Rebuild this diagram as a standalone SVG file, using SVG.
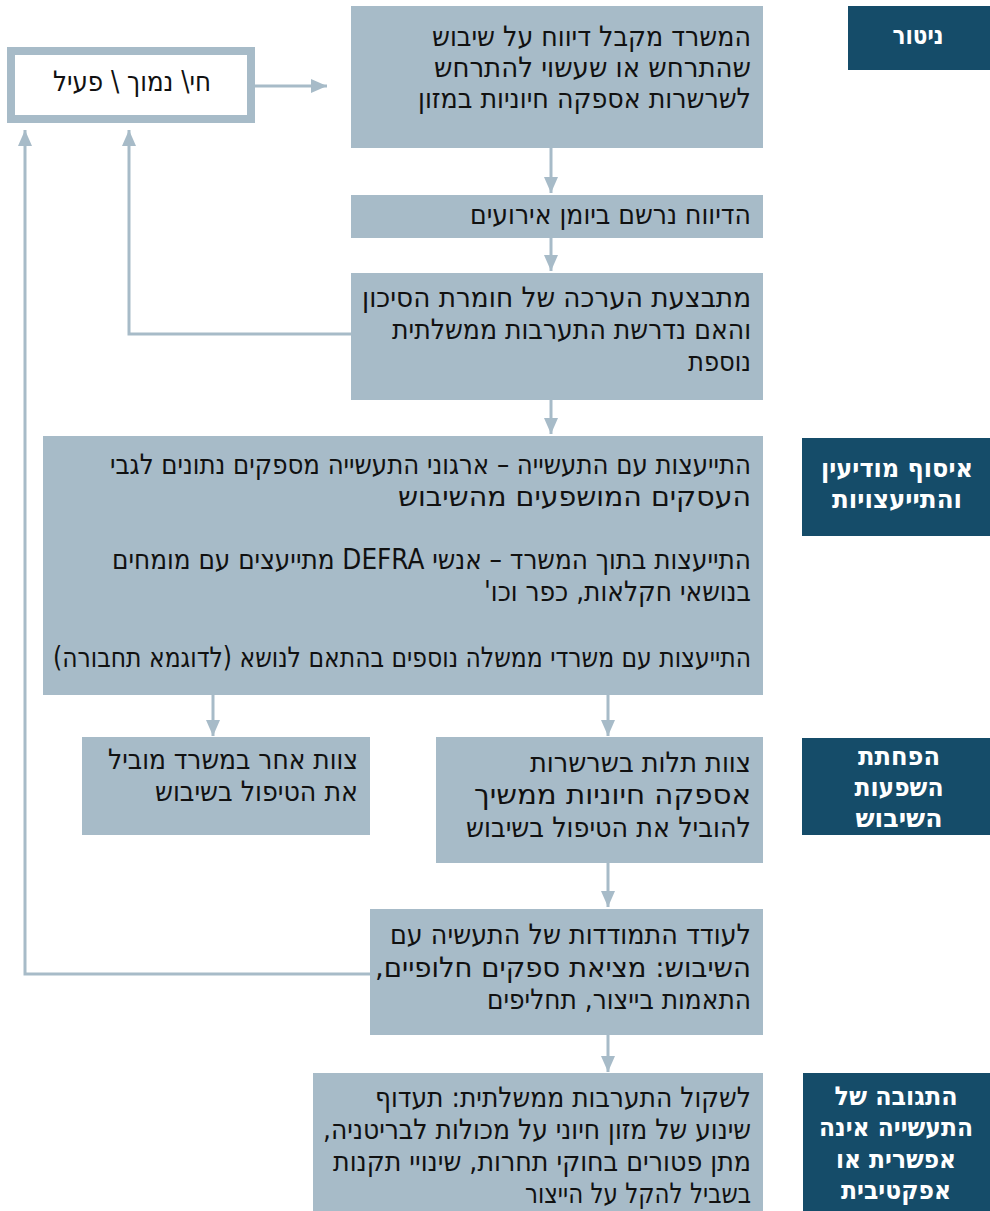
<svg xmlns="http://www.w3.org/2000/svg" width="990" height="1211" viewBox="0 0 990 1211">
<style>
.box{fill:#a7bbc8}
.lab{fill:#154c69}
.t{font-family:"DejaVu Sans Condensed","DejaVu Sans","Liberation Sans",sans-serif;font-stretch:condensed;font-size:28px;fill:#111;direction:rtl;text-anchor:start}
.h{font-family:"DejaVu Sans Condensed","DejaVu Sans","Liberation Sans",sans-serif;font-stretch:condensed;font-weight:bold;font-size:26px;fill:#fff;text-anchor:middle;direction:rtl}
.c{fill:none;stroke:#a7bbc8;stroke-width:3}
</style>
<defs>
<marker id="ah" viewBox="0 0 16 14" refX="16" refY="7" markerWidth="16" markerHeight="14" markerUnits="userSpaceOnUse" orient="auto"><path d="M0,0 L16,7 L0,14 z" fill="#a7bbc8"/></marker>
</defs>
<rect width="990" height="1211" fill="#fff"/>

<g id="connectors">
<line class="c" x1="255" y1="86" x2="327" y2="86" marker-end="url(#ah)"/>
<line class="c" x1="551" y1="148" x2="551" y2="193" marker-end="url(#ah)"/>
<line class="c" x1="551" y1="238" x2="551" y2="271" marker-end="url(#ah)"/>
<polyline class="c" points="351,334 129,334 129,130" marker-end="url(#ah)"/>
<line class="c" x1="551" y1="400" x2="551" y2="434" marker-end="url(#ah)"/>
<line class="c" x1="213" y1="695" x2="213" y2="736" marker-end="url(#ah)"/>
<line class="c" x1="608" y1="695" x2="608" y2="736" marker-end="url(#ah)"/>
<line class="c" x1="608" y1="863" x2="608" y2="907" marker-end="url(#ah)"/>
<polyline class="c" points="370,974 25,974 25,130" marker-end="url(#ah)"/>
<line class="c" x1="608" y1="1035" x2="608" y2="1072" marker-end="url(#ah)"/>
</g>

<g id="status">
<rect x="11" y="51" width="240" height="68" fill="#fff" stroke="#a7bbc8" stroke-width="8"/>
<text class="t" x="211" y="91" textLength="158" lengthAdjust="spacingAndGlyphs">חי\ נמוך \ פעיל</text>
</g>

<g id="n1">
<rect class="box" x="351" y="6" width="412" height="142"/>
<text class="t" x="751" y="46" textLength="319" lengthAdjust="spacingAndGlyphs">המשרד מקבל דיווח על שיבוש</text>
<text class="t" x="751" y="77" textLength="317" lengthAdjust="spacingAndGlyphs">שהתרחש או שעשוי להתרחש</text>
<text class="t" x="751" y="108" textLength="333" lengthAdjust="spacingAndGlyphs">לשרשרות אספקה חיוניות במזון</text>
</g>

<g id="n2">
<rect class="box" x="351" y="195" width="412" height="43"/>
<text class="t" x="751" y="224" textLength="281" lengthAdjust="spacingAndGlyphs">הדיווח נרשם ביומן אירועים</text>
</g>

<g id="n3">
<rect class="box" x="351" y="273" width="412" height="127"/>
<text class="t" x="751" y="307" textLength="389" lengthAdjust="spacingAndGlyphs">מתבצעת הערכה של חומרת הסיכון</text>
<text class="t" x="751" y="339" textLength="359" lengthAdjust="spacingAndGlyphs">והאם נדרשת התערבות ממשלתית</text>
<text class="t" x="751" y="371" textLength="63" lengthAdjust="spacingAndGlyphs">נוספת</text>
</g>

<g id="n4">
<rect class="box" x="43" y="436" width="720" height="259"/>
<text class="t" x="751" y="474" textLength="641" lengthAdjust="spacingAndGlyphs">התייעצות עם התעשייה – ארגוני התעשייה מספקים נתונים לגבי</text>
<text class="t" x="751" y="506" textLength="353" lengthAdjust="spacingAndGlyphs">העסקים המושפעים מהשיבוש</text>
<text class="t" x="751" y="569" textLength="639" lengthAdjust="spacingAndGlyphs">התייעצות בתוך המשרד – אנשי DEFRA מתייעצים עם מומחים</text>
<text class="t" x="751" y="601" textLength="267" lengthAdjust="spacingAndGlyphs">בנושאי חקלאות, כפר וכו'</text>
<text class="t" x="751" y="667" textLength="698" lengthAdjust="spacingAndGlyphs">התייעצות עם משרדי ממשלה נוספים בהתאם לנושא (לדוגמא תחבורה)</text>
</g>

<g id="n5">
<rect class="box" x="82" y="737" width="288" height="98"/>
<text class="t" x="358" y="769" textLength="250" lengthAdjust="spacingAndGlyphs">צוות אחר במשרד מוביל</text>
<text class="t" x="358" y="801" textLength="203" lengthAdjust="spacingAndGlyphs">את הטיפול בשיבוש</text>
</g>

<g id="n6">
<rect class="box" x="436" y="737" width="327" height="126"/>
<text class="t" x="751" y="772" textLength="221" lengthAdjust="spacingAndGlyphs">צוות תלות בשרשרות</text>
<text class="t" x="751" y="804" textLength="277" lengthAdjust="spacingAndGlyphs">אספקה חיוניות ממשיך</text>
<text class="t" x="751" y="837" textLength="285" lengthAdjust="spacingAndGlyphs">להוביל את הטיפול בשיבוש</text>
</g>

<g id="n7">
<rect class="box" x="370" y="909" width="393" height="126"/>
<text class="t" x="751" y="944" textLength="361" lengthAdjust="spacingAndGlyphs">לעודד התמודדות של התעשיה עם</text>
<text class="t" x="751" y="977" textLength="376" lengthAdjust="spacingAndGlyphs">השיבוש: מציאת ספקים חלופיים,</text>
<text class="t" x="751" y="1009" textLength="264" lengthAdjust="spacingAndGlyphs">התאמות בייצור, תחליפים</text>
</g>

<g id="n8">
<rect class="box" x="313" y="1073" width="450" height="138"/>
<text class="t" x="751" y="1107" textLength="376" lengthAdjust="spacingAndGlyphs">לשקול התערבות ממשלתית: תעדוף</text>
<text class="t" x="751" y="1139" textLength="428" lengthAdjust="spacingAndGlyphs">שינוע של מזון חיוני על מכולות לבריטניה,</text>
<text class="t" x="751" y="1171" textLength="418" lengthAdjust="spacingAndGlyphs">מתן פטורים בחוקי תחרות, שינויי תקנות</text>
<text class="t" x="751" y="1203" textLength="226" lengthAdjust="spacingAndGlyphs">בשביל להקל על הייצור</text>
</g>

<g id="l1">
<rect class="lab" x="848" y="6" width="142" height="64"/>
<text class="h" x="918" y="44" textLength="51" lengthAdjust="spacingAndGlyphs">ניטור</text>
</g>
<g id="l2">
<rect class="lab" x="802" y="438" width="188" height="98"/>
<text class="h" x="897" y="477" textLength="152" lengthAdjust="spacingAndGlyphs">איסוף מודיעין</text>
<text class="h" x="897" y="508" textLength="130" lengthAdjust="spacingAndGlyphs">והתייעצויות</text>
</g>
<g id="l3">
<rect class="lab" x="802" y="738" width="188" height="97"/>
<text class="h" x="899" y="765" textLength="82" lengthAdjust="spacingAndGlyphs">הפחתת</text>
<text class="h" x="899" y="796" textLength="89" lengthAdjust="spacingAndGlyphs">השפעות</text>
<text class="h" x="899" y="827" textLength="87" lengthAdjust="spacingAndGlyphs">השיבוש</text>
</g>
<g id="l4">
<rect class="lab" x="803" y="1073" width="187" height="138"/>
<text class="h" x="896" y="1105" textLength="123" lengthAdjust="spacingAndGlyphs">התגובה של</text>
<text class="h" x="896" y="1136" textLength="154" lengthAdjust="spacingAndGlyphs">התעשייה אינה</text>
<text class="h" x="896" y="1168" textLength="120" lengthAdjust="spacingAndGlyphs">אפשרית או</text>
<text class="h" x="896" y="1199" textLength="110" lengthAdjust="spacingAndGlyphs">אפקטיבית</text>
</g>
</svg>
